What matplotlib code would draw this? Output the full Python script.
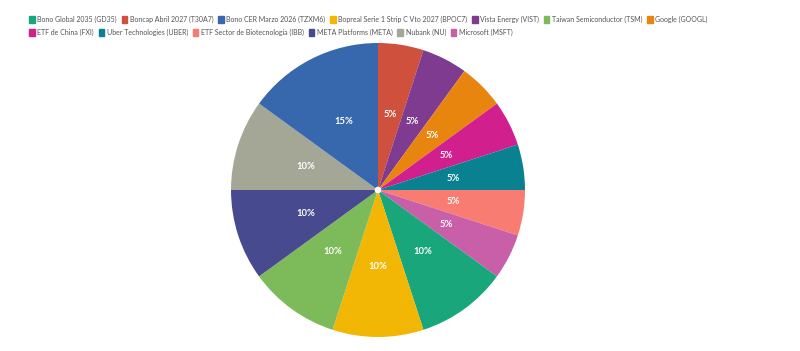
import matplotlib.pyplot as plt
from matplotlib.patches import Patch, Circle

# Datos de la cartera (orden de la leyenda)
activos = ['Bono Global 2035 (GD35)', 'Boncap Abril 2027 (T30A7)', 'Bono CER Marzo 2026 (TZXM6)',
           'Bopreal Serie 1 Strip C Vto 2027 (BPOC7)', 'Vista Energy (VIST)', 'Taiwan Semiconductor (TSM)',
           'Google (GOOGL)', 'ETF de China (FXI)', 'Uber Technologies (UBER)',
           'ETF Sector de Biotecnología (IBB)', 'META Platforms (META)', 'Nubank (NU)', 'Microsoft (MSFT)']
pesos = [10, 5, 15, 10, 5, 10, 5, 5, 5, 5, 10, 10, 5]
colores = ['#19a67b', '#cf503c', '#3767ad', '#f2b704', '#7f3b8f', '#7dba5a', '#e8850f',
           '#d21f8e', '#0a8191', '#f87c72', '#484a8f', '#a4a795', '#c85fa8']
# orden de las porciones, en sentido horario desde arriba
orden_torta = [1, 4, 6, 7, 8, 9, 12, 0, 3, 5, 10, 11, 2]

plt.rcParams['font.family'] = ['Lato', 'DejaVu Sans']

fig = plt.figure(figsize=(8, 3.51), dpi=100)
ax = fig.add_axes([0.28875, 0.0399, 0.3675, 0.8376])

wedges, textos, autotextos = ax.pie(
    [pesos[i] for i in orden_torta],
    colors=[colores[i] for i in orden_torta],
    startangle=90, counterclock=False, radius=1,
    autopct=lambda p: f'{p:.0f}%', pctdistance=0.52,
    wedgeprops=dict(linewidth=0),
    textprops=dict(color='white', fontsize=6.8, fontweight='bold'))
ax.add_patch(Circle((0, 0), 0.018, color='white', zorder=5))
ax.set_xlim(-1, 1)
ax.set_ylim(-1, 1)
ax.set_aspect('equal')
ax.axis('off')

# Leyenda en dos filas
handles = [Patch(facecolor=c, edgecolor=c) for c in colores]
filas = [range(0, 7), range(7, 13)]
for fila, y in zip(filas, [0.966, 0.928]):
    fig.legend([handles[i] for i in fila], [activos[i] for i in fila],
               loc='upper left', bbox_to_anchor=(0.032, y), ncol=len(fila),
               frameon=False, fontsize=5.0, handlelength=0.8, handleheight=1.2,
               handletextpad=0.4, columnspacing=0.65, borderpad=0,
               labelcolor='#555555')

fig.savefig('out.png', dpi=100)
